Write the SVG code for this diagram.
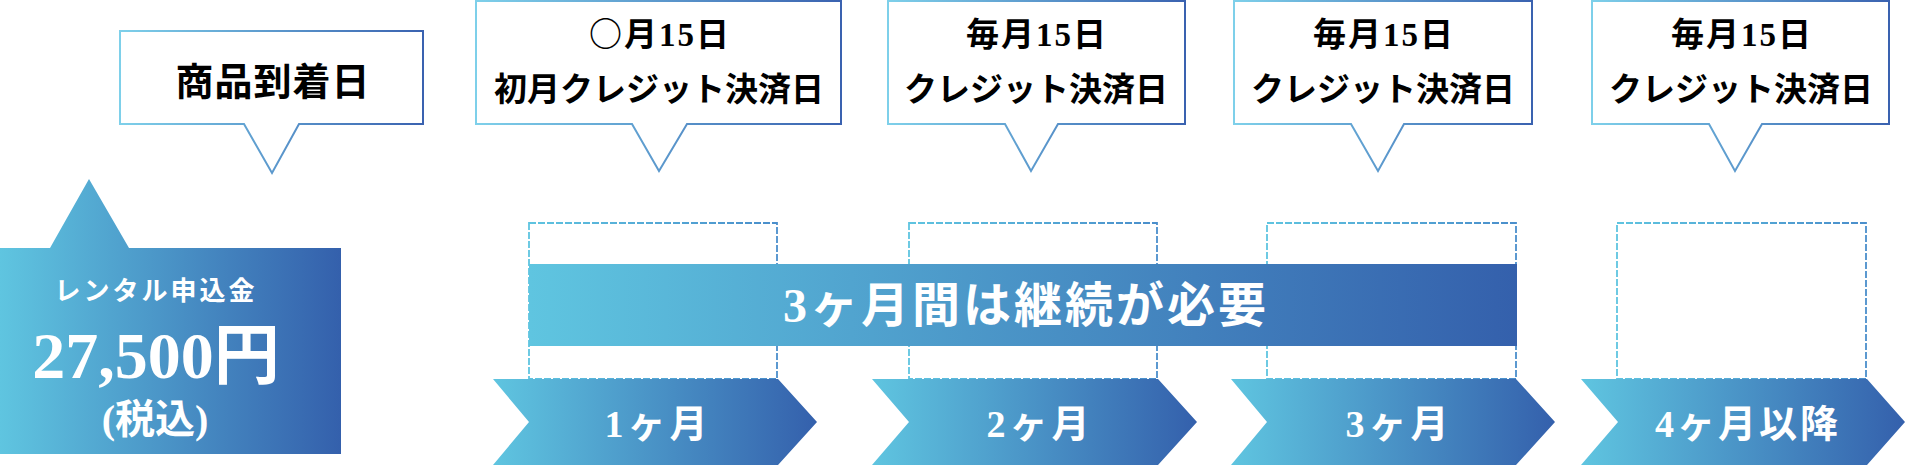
<svg xmlns="http://www.w3.org/2000/svg" width="1906" height="466" viewBox="0 0 1906 466">
<defs>
<linearGradient id="gFill" x1="0" y1="0" x2="1" y2="0">
<stop offset="0" stop-color="#5fc5e0"/>
<stop offset="1" stop-color="#3460ac"/>
</linearGradient>
<linearGradient id="gStroke" x1="0" y1="0" x2="1" y2="0">
<stop offset="0" stop-color="#7ed0ea"/>
<stop offset="1" stop-color="#3a62b0"/>
</linearGradient>
<linearGradient id="gDash" x1="0" y1="0" x2="1" y2="0">
<stop offset="0" stop-color="#5ec4e0"/>
<stop offset="1" stop-color="#4a8ecb"/>
</linearGradient>
<style>
.callout{fill:#fff;stroke:url(#gStroke);stroke-width:2}
.dash{fill:#fff;stroke:url(#gDash);stroke-width:1.8;stroke-dasharray:7 2}
.grad{fill:url(#gFill)}
.bt{font-family:"Liberation Serif","Noto Sans CJK JP",serif;font-weight:bold;fill:#000;text-anchor:middle}
.wt{font-family:"Liberation Serif","Noto Sans CJK JP",serif;font-weight:bold;fill:#fff;text-anchor:middle}
.cjk{font-family:"Noto Sans CJK JP",sans-serif}
</style>
</defs>

<g id="fee">
<path class="grad" d="M0,248 H50 L89,179 L129,248 H341 V454 H0 Z"/>
<text class="wt" x="156" y="300" font-size="26" letter-spacing="3">レンタル申込金</text>
<text class="wt" x="156" y="378" font-size="66">27,500円</text>
<text class="wt" x="155" y="433" font-size="40">(税込)</text>
</g>

<g id="callout-arrival">
<path class="callout" d="M120,31 H423 V124 H299 L272,173 L244,124 H120 Z"/>
<text class="bt" x="273" y="95" font-size="38" letter-spacing="1">商品到着日</text>
</g>

<g id="callout-first">
<path class="callout" d="M476,1 H841 V124 H687 L659,171 L632,124 H476 Z"/>
<text class="bt" x="660" y="46" font-size="33" letter-spacing="2"><tspan class="cjk">○</tspan>月15日</text>
<text class="bt" x="659" y="101" font-size="33">初月クレジット決済日</text>
</g>

<g id="callout-2">
<path class="callout" d="M888,1 H1185 V124 H1058 L1031,171 L1005,124 H888 Z"/>
<text class="bt" x="1037" y="46" font-size="33" letter-spacing="2">毎月15日</text>
<text class="bt" x="1036" y="101" font-size="33">クレジット決済日</text>
</g>

<g id="callout-3">
<path class="callout" d="M1234,1 H1532 V124 H1404 L1378,171 L1351,124 H1234 Z"/>
<text class="bt" x="1384" y="46" font-size="33" letter-spacing="2">毎月15日</text>
<text class="bt" x="1383" y="101" font-size="33">クレジット決済日</text>
</g>

<g id="callout-4">
<path class="callout" d="M1592,1 H1889 V124 H1762 L1735,171 L1709,124 H1592 Z"/>
<text class="bt" x="1742" y="46" font-size="33" letter-spacing="2">毎月15日</text>
<text class="bt" x="1741" y="101" font-size="33">クレジット決済日</text>
</g>

<g id="month-boxes">
<rect class="dash" x="529" y="223" width="248" height="156"/>
<rect class="dash" x="909" y="223" width="248" height="156"/>
<rect class="dash" x="1267" y="223" width="249" height="156"/>
<rect class="dash" x="1617" y="223" width="249" height="156"/>
</g>

<g id="band">
<rect class="grad" x="529" y="264" width="988" height="82"/>
<text class="wt" x="1026" y="322" font-size="48" letter-spacing="3">3ヶ月間は継続が必要</text>
</g>

<g id="month-1">
<path class="grad" d="M493,379 H778 L817,422 L778,465 H493 L529,422 Z"/>
<text class="wt" x="658" y="437" font-size="38" letter-spacing="4">1ヶ月</text>
</g>
<g id="month-2">
<path class="grad" d="M872,379 H1158 L1197,422 L1158,465 H872 L909,422 Z"/>
<text class="wt" x="1040" y="437" font-size="38" letter-spacing="4">2ヶ月</text>
</g>
<g id="month-3">
<path class="grad" d="M1231,379 H1516 L1555,422 L1516,465 H1231 L1267,422 Z"/>
<text class="wt" x="1399" y="437" font-size="38" letter-spacing="4">3ヶ月</text>
</g>
<g id="month-4">
<path class="grad" d="M1581,379 H1867 L1905,422 L1867,465 H1581 L1618,422 Z"/>
<text class="wt" x="1748" y="437" font-size="38" letter-spacing="3">4ヶ月以降</text>
</g>
</svg>
